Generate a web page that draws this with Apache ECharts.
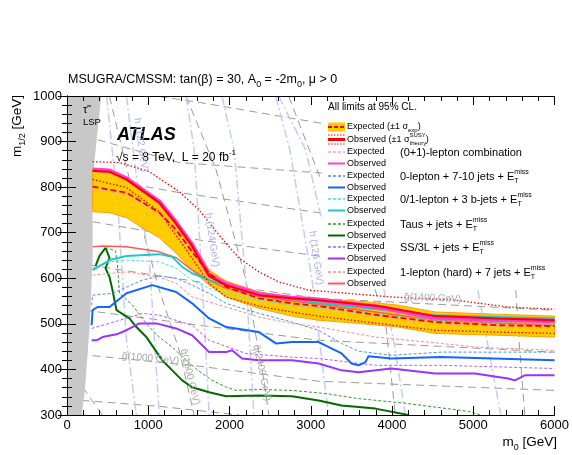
<!DOCTYPE html>
<html>
<head>
<meta charset="utf-8">
<script src="https://cdn.jsdelivr.net/npm/echarts@6/dist/echarts.min.js"></script>
<style>
  html, body { margin: 0; padding: 0; background: #fff; }
  #chart { width: 572px; height: 455px; }
</style>
</head>
<body>
<div id="chart"></div>
<script>
// ---- data, [m0, m1/2] in GeV ----
var lspRegion = [[0,300],[180,300],[217,347],[278,493],[315,640],[315,816],[421,1000],[0,1000]];

var bandUpper = [[315,838],[437,836],[523,834],[732,817],[928,793],[1136,766],[1344,724],[1540,678],[1749,618],[1958,594],[2362,570],[2767,559],[3097,554],[3588,550],[4077,541],[4531,526],[5303,521],[6000,517]];
var bandLower = [[315,746],[523,744],[732,733],[928,711],[1136,689],[1344,655],[1540,618],[1749,585],[1958,559],[2362,534],[2767,517],[3097,508],[3588,501],[4077,493],[4531,479],[5303,475],[6000,471]];
var combExp = [[315,801],[732,788],[1136,744],[1344,706],[1540,658],[1749,611],[1958,581],[2362,556],[2767,545],[3097,539],[3830,519],[4531,504],[5303,497],[6000,495]];
var combObs = [[315,836],[523,834],[732,817],[1136,766],[1344,720],[1540,671],[1749,605],[1958,585],[2362,563],[2767,556],[3097,552],[3830,539],[4531,517],[5303,512],[6000,508]];
var combObsUp = [[315,856],[646,854],[1013,834],[1381,790],[1626,750],[1871,695],[2117,644],[2362,614],[2607,592],[2975,574],[3992,559],[4776,552],[5426,537],[6000,532]];
var combObsDown = [[315,817],[732,799],[1136,746],[1540,644],[1749,589],[1958,559],[2362,539],[2767,526],[3097,517],[3830,501],[4531,486],[5303,482],[6000,479]];

var lep01Exp = [[315,797],[732,784],[1136,740],[1344,702],[1540,654],[1749,608],[1958,578],[2362,553],[2767,543],[3097,537],[3830,516],[4531,501],[5303,494],[6000,492]];
var lep01Obs = [[315,838],[523,836],[732,819],[1136,768],[1344,722],[1540,673],[1749,607],[1958,587],[2362,565],[2767,557],[3097,553],[3830,537],[4531,514],[5303,509],[6000,506]];

var jetsExp = [[303,541],[315,563],[560,567],[928,596],[1136,605],[1344,600],[1540,585],[1749,567],[1958,545],[2362,523],[2767,504],[3097,486],[3379,457],[3588,440],[3992,431],[4605,438],[6000,438]];
var jetsObs = [[303,497],[315,530],[377,537],[523,537],[732,567],[1050,585],[1344,570],[1540,545],[1749,512],[1958,493],[2362,482],[2571,457],[2767,460],[3097,460],[3379,435],[3502,413],[3588,409],[3673,416],[3710,429],[3992,424],[4605,427],[6000,420]];

var bjetsExp = [[315,622],[523,636],[732,640],[1136,636],[1344,622],[1540,596],[1749,578],[1958,567],[2362,552],[2767,541],[3097,534],[4531,508],[6000,499]];
var bjetsObs = [[315,618],[523,640],[732,649],[1136,653],[1295,647],[1418,625],[1540,611],[1749,596],[1958,585],[2362,567],[2767,556],[2975,548],[4531,519],[6000,512]];

var tauExp = [[437,656],[497,667],[597,660],[621,629],[634,596],[646,567],[805,541],[928,512],[1013,493],[1136,471],[1295,449],[1467,420],[1626,396],[1786,376],[1958,361],[2080,354],[2362,356],[2767,354],[3183,347],[3588,336],[4200,325],[4936,308],[5095,300]];
var tauObs = [[352,627],[400,649],[474,667],[523,645],[474,622],[523,603],[560,574],[609,530],[768,512],[854,493],[977,471],[1173,420],[1295,398],[1418,376],[1540,361],[1749,350],[1958,341],[2362,343],[2767,341],[3097,332],[3379,321],[3796,314],[4200,300]];

var ss3lExp = [[303,490],[732,512],[928,523],[1136,519],[1540,497],[1749,464],[2031,446],[2203,435],[2767,427],[3097,424],[3796,409],[4605,409],[6000,402]];
var ss3lObs = [[303,464],[364,464],[437,471],[609,477],[732,486],[891,501],[1100,501],[1344,490],[1540,475],[1749,438],[1958,438],[2031,442],[2154,424],[2362,420],[2767,420],[3097,413],[3379,398],[3588,394],[3992,402],[4531,391],[5021,391],[5426,380],[5512,376],[5634,387],[6000,387]];

var lep1Exp = [[315,607],[732,614],[1136,603],[1344,589],[1540,559],[1958,537],[2362,515],[2767,501],[3097,493],[3796,471],[4605,457],[5021,449],[6000,442]];
var lep1Obs = [[315,669],[437,671],[732,669],[1136,658],[1344,645],[1540,618],[1749,596],[1958,578],[2362,561],[2767,550],[3097,543],[4531,508],[6000,497]];

// iso-mass lines (gluino, squark) and Higgs-mass contours, visible parts only
var gluinoLines = [
  [[180,332],[1136,319],[2116,300]],
  [[156,433],[1626,407],[3097,374],[6000,354]],
  [[217,530],[1626,497],[3097,464],[6000,438]],
  [[278,629],[1626,592],[3097,556],[6000,530]],
  [[315,724],[1626,684],[3134,648]],
  [[340,821],[1381,788],[3134,743]],
  [[376,904],[1381,854],[3134,831]],
  [[1136,999],[1626,986],[3134,940]]
];
var squarkLines = [
  [[192,361],[437,300]],
  [[523,999],[830,772],[1136,574],[1381,442],[1565,300]],
  [[1467,999],[1835,838],[2202,596],[2313,486],[2423,376],[2484,300]],
  [[2729,999],[3134,812]],
  [[3790,576],[3918,508],[4040,300]],
  [[5523,574],[5572,442],[5634,300]]
];
var higgsLines = [
  [[487,999],[621,772],[732,464],[854,300]],
  [[732,999],[891,772],[1013,640],[1136,300]],
  [[1467,999],[1565,882],[1663,596],[1749,300]],
  [[1908,999],[2055,882],[2202,596],[2300,300]],
  [[2570,999],[2742,882],[3011,603],[3219,300]],
  [[2607,999],[2937,882],[3134,730]],
  [[3899,577],[4040,442],[4163,300]],
  [[5056,574],[5338,300]]
];

var FONT = "'Liberation Sans', Arial, Helvetica, sans-serif";
var cv = document.createElement('canvas').getContext('2d');
function tw(s, size, st) { cv.font = (st || '') + ' ' + size + 'px ' + FONT; return cv.measureText(s).width; }
function txt(x, y, s, size, o) {
  o = o || {};
  return { type: 'text', x: x, y: y, rotation: o.rot || 0, silent: true,
    style: { text: s, fill: o.fill || '#000', font: (o.st || '') + ' ' + size + 'px ' + FONT,
      textAlign: o.align || 'left', textVerticalAlign: 'middle', align: o.align || 'left', verticalAlign: 'middle' } };
}
// pieces: [text, 'n'|'sub'|'sup', noAdvance]
function row(x, y, parts, size, o) {
  o = o || {};
  var out = [], cx = x;
  parts.forEach(function (p) {
    var k = p[1] || 'n';
    var s = k === 'n' ? size : Math.round(size * 0.68);
    var dy = k === 'sub' ? size * 0.38 : (k === 'sup' ? -size * 0.42 : 0);
    out.push(txt(cx, y + dy, p[0], s, o));
    if (!p[2]) cx += tw(p[0], s, o.st);
  });
  return out;
}
function rowWidth(parts, size) {
  var w = 0;
  parts.forEach(function (p) { var s = (p[1] || 'n') === 'n' ? size : Math.round(size * 0.68); if (!p[2]) w += tw(p[0], s); });
  return w;
}
function seg(x1, y1, x2, y2, color, width, dash) {
  return { type: 'line', silent: true, shape: { x1: x1, y1: y1, x2: x2, y2: y2 },
    style: { stroke: color, lineWidth: width, lineDash: dash || null } };
}

function lineSeries(data, color, width, dash, z) {
  return { type: 'line', data: data, symbol: 'none', silent: true, z: z || 4, clip: true,
    lineStyle: { color: color, width: width, type: dash || 'solid', cap: 'butt' } };
}
function polySeries(points, style, z) {
  return { type: 'custom', silent: true, z: z, clip: true, data: [points[0]],
    renderItem: function (params, api) {
      return { type: 'polygon', shape: { points: points.map(function (p) { return api.coord(p); }) }, style: style };
    } };
}

var C = {
  pinkE: '#ff9be8', pinkO: '#ff3fd0',
  blueE: '#4a8cff', blueO: '#1464ff',
  tealE: '#3fe3e3', tealO: '#1ec8c8',
  grnE: '#2e9a2e', grnO: '#006a00',
  purE: '#b05cff', purO: '#9933ff',
  salE: '#ff8a8a', salO: '#ff5a5a',
  gray: '#9a9a9a', lav: '#c6caf8'
};

var series = [];
gluinoLines.concat(squarkLines).forEach(function (l) { series.push(lineSeries(l, C.gray, 1, [8, 5], 1)); });
higgsLines.forEach(function (l) { series.push(lineSeries(l, C.lav, 1.5, [9, 3, 2, 3], 1)); });
series.push(polySeries(lspRegion, { fill: '#c8c8c8' }, 2));
series.push(polySeries(bandUpper.concat(bandLower.slice().reverse()), { fill: '#ffcc00', stroke: '#ffa000', lineWidth: 1 }, 3));
series.push(lineSeries(tauExp, C.grnE, 1, [3, 2], 4));
series.push(lineSeries(tauObs, C.grnO, 2, 'solid', 4));
series.push(lineSeries(ss3lExp, C.purE, 1, [3, 2], 4));
series.push(lineSeries(ss3lObs, C.purO, 2, 'solid', 4));
series.push(lineSeries(jetsExp, C.blueE, 1, [3, 2], 4));
series.push(lineSeries(jetsObs, C.blueO, 2, 'solid', 4));
series.push(lineSeries(lep1Exp, C.salE, 1, [3, 2], 4));
series.push(lineSeries(lep1Obs, C.salO, 1.5, 'solid', 4));
series.push(lineSeries(bjetsExp, C.tealE, 1, [3, 2], 4));
series.push(lineSeries(bjetsObs, C.tealO, 2, 'solid', 4));
series.push(lineSeries(lep01Exp, C.pinkE, 1, [3, 2], 5));
series.push(lineSeries(lep01Obs, C.pinkO, 4.5, 'solid', 5));
series.push(lineSeries(combObsUp, '#ff0000', 1.3, [1.5, 2], 6));
series.push(lineSeries(combObsDown, '#ff0000', 1.3, [1.5, 2], 6));
series.push(lineSeries(combExp, '#ff0000', 1.8, [6, 3], 6));
series.push(lineSeries(combObs, '#ff0000', 2, 'solid', 6));

// ---- legend, drawn as a top-most custom series on a white panel ----
var leg = [];
leg.push({ type: 'rect', silent: true, shape: { x: 323, y: 97, width: 234, height: 192 }, style: { fill: '#fff' } });
leg.push(txt(328, 107, 'All limits at 95% CL.', 10));
var sx1 = 328, sx2 = 345, tx = 347, gx = 400;
leg.push({ type: 'rect', silent: true, shape: { x: sx1, y: 122.5, width: sx2 - sx1, height: 9 }, style: { fill: '#ffcc00' } });
leg.push(seg(sx1, 127, sx2, 127, '#ff0000', 2, [4, 2]));
leg = leg.concat(row(tx, 127, [['Expected (\u00b11 \u03c3'], ['exp', 'sub'], [')']], 9));
leg.push(seg(sx1, 135, sx2, 135, '#ff0000', 1.2, [1.5, 1.5]));
leg.push(seg(sx1, 139.5, sx2, 139.5, '#ff0000', 3));
leg.push(seg(sx1, 144, sx2, 144, '#ff0000', 1.2, [1.5, 1.5]));
leg = leg.concat(row(tx, 139.5, [['Observed (\u00b11 \u03c3'], ['theory', 'sub', true], ['SUSY', 'sup'], [')']], 9));
var legendRows = [
  [152, C.pinkE, C.pinkO, [['(0+1)-lepton combination']]],
  [176, C.blueE, C.blueO, [['0-lepton + 7-10 jets + E'], ['T', 'sub', true], ['miss', 'sup']]],
  [199, C.tealE, C.tealO, [['0/1-lepton + 3 b-jets + E'], ['T', 'sub', true], ['miss', 'sup']]],
  [224, C.grnE, C.grnO, [['Taus + jets + E'], ['T', 'sub', true], ['miss', 'sup']]],
  [247, C.purE, C.purO, [['SS/3L + jets + E'], ['T', 'sub', true], ['miss', 'sup']]],
  [272, C.salE, C.salO, [['1-lepton (hard) + 7 jets + E'], ['T', 'sub', true], ['miss', 'sup']]]
];
legendRows.forEach(function (r) {
  var y = r[0];
  leg.push(seg(sx1, y, sx2, y, r[1], 1.3, [3, 2]));
  leg.push(txt(tx, y, 'Expected', 9));
  leg.push(seg(sx1, y + 11.5, sx2, y + 11.5, r[2], 2));
  leg.push(txt(tx, y + 11.5, 'Observed', 9));
  leg = leg.concat(row(gx, y + 1, r[3], 11));
});
series.push({ type: 'custom', silent: true, z: 10, clip: false, data: [[0, 300]],
  renderItem: function () { return { type: 'group', children: leg }; } });

// ---- graphic: texts outside the legend (kept above the series) ----
var g = [];
g = g.concat(row(68, 80, [['MSUGRA/CMSSM: tan(\u03b2) = 30, A'], ['0', 'sub'], [' = -2m'], ['0', 'sub'], [', \u03bc > 0']], 12.5));
g.push(txt(117, 135, 'ATLAS', 18, { st: 'italic bold' }));
g = g.concat(row(116, 158, [['\u221as = 8 TeV,  L = 20 fb'], ['-1', 'sup']], 12));
g.push(txt(83, 110, '\u03c4\u0303', 11));
g.push(txt(83, 122, 'LSP', 9.5));

var grayLab = '#a8a8a8', lavLab = '#aab0ee';
g.push(txt(122, 356, 'g\u0303(1000 GeV)', 10, { fill: grayLab, rot: -0.09 }));
g.push(txt(404, 297, 'g\u0303(1400 GeV)', 10, { fill: grayLab, rot: -0.04 }));
g.push(txt(190, 377, 'q\u0303(1600 GeV)', 10, { fill: grayLab, rot: -1.33, align: 'center' }));
g.push(txt(262, 373, 'q\u0303(2400 GeV)', 10, { fill: grayLab, rot: -1.36, align: 'center' }));
g.push(txt(141, 145, 'h (122 GeV)', 10, { fill: lavLab, rot: -1.42, align: 'center' }));
g.push(txt(212, 240, 'h (124 GeV)', 10, { fill: lavLab, rot: -1.42, align: 'center' }));
g.push(txt(316, 258, 'h (126 GeV)', 10, { fill: lavLab, rot: -1.42, align: 'center' }));

// axis titles
var yt = [['m'], ['1/2', 'sub'], [' [GeV]']];
g.push({ type: 'group', x: 17, y: 95, rotation: Math.PI / 2, children: row(-rowWidth(yt, 13.5), 0, yt, 13.5) });
var xt = [['m'], ['0', 'sub'], [' [GeV]']];
g = g.concat(row(557 - rowWidth(xt, 13.5), 442, xt, 13.5));
g.forEach(function (el) { el.z = 60; });

var axisCommon = {
  type: 'value', z: 20, axisLine: { show: true, lineStyle: { color: '#000', width: 1 } },
  axisTick: { show: true, inside: true, length: 9, lineStyle: { color: '#000' } },
  minorTick: { show: true, splitNumber: 5, length: 5, lineStyle: { color: '#000' } },
  splitLine: { show: false }, minorSplitLine: { show: false }
};
function ax(extra) { return Object.assign({}, JSON.parse(JSON.stringify(axisCommon)), extra); }
function plain(v) { return String(v); }

var chart = echarts.init(document.getElementById('chart'), null, { renderer: 'canvas' });
chart.setOption({
  animation: false,
  grid: { left: 67, right: 15, top: 96, bottom: 40, containLabel: false },
  xAxis: [
    ax({ position: 'bottom', min: 0, max: 6000, interval: 1000,
      axisLabel: { color: '#000', fontSize: 13, fontFamily: FONT, margin: 4, formatter: plain } }),
    ax({ position: 'top', min: 0, max: 6000, interval: 1000, axisLabel: { show: false } })
  ],
  yAxis: [
    ax({ position: 'left', min: 300, max: 1000, interval: 100,
      axisLabel: { color: '#000', fontSize: 13, fontFamily: FONT, margin: 5, formatter: plain } }),
    ax({ position: 'right', min: 300, max: 1000, interval: 100, axisLabel: { show: false } })
  ],
  series: series,
  graphic: { elements: g }
});
</script>
</body>
</html>
